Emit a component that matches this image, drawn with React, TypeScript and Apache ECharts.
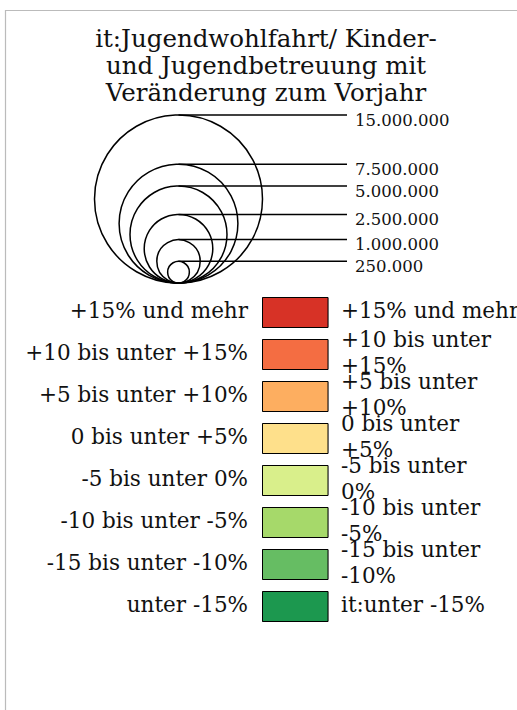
import React, { useEffect, useRef } from "react";
import * as echarts from "echarts";

const titleLines = ["it:Jugendwohlfahrt/ Kinder-", "und Jugendbetreuung mit", "Veränderung zum Vorjahr"];
const sizeValues = [15000000, 7500000, 5000000, 2500000, 1000000, 250000];
const sizeLabels = ["15.000.000", "7.500.000", "5.000.000", "2.500.000", "1.000.000", "250.000"];
const classLabelsLeft = [
  "+15% und mehr",
  "+10 bis unter +15%",
  "+5 bis unter +10%",
  "0 bis unter +5%",
  "-5 bis unter 0%",
  "-10 bis unter -5%",
  "-15 bis unter -10%",
  "unter -15%",
];
const classLabelsRight = [
  "+15% und mehr",
  "+10 bis unter\n+15%",
  "+5 bis unter\n+10%",
  "0 bis unter\n+5%",
  "-5 bis unter\n0%",
  "-10 bis unter\n-5%",
  "-15 bis unter\n-10%",
  "it:unter -15%",
];
const classColors = ["#d73027", "#f46d43", "#fdae61", "#fee08b", "#d9ef8b", "#a6d96a", "#66bd63", "#1a9850"];

const FONT = "'DejaVu Serif', serif";

export default function App() {
  const ref = useRef<HTMLDivElement>(null);
  useEffect(() => {
    if (!ref.current) return;
    const chart = echarts.init(ref.current, undefined, { renderer: "svg" });

    const maxV = Math.max(...sizeValues);
    const rMax = 84;
    const cx = 178.5;
    const baseY = 283;
    const lineEnd = 347;
    const graphics: any[] = [];

    // frame
    graphics.push({
      type: "rect",
      shape: { x: 5.5, y: 10.5, width: 700, height: 900 },
      style: { fill: "none", stroke: "#bbbbbb", lineWidth: 1.2 },
    });

    sizeValues.forEach((v, i) => {
      const r = rMax * Math.sqrt(v / maxV);
      const top = baseY - 2 * r;
      graphics.push({
        type: "circle",
        shape: { cx, cy: baseY - r, r },
        style: { fill: "none", stroke: "#000", lineWidth: 1.5 },
      });
      graphics.push({
        type: "line",
        shape: { x1: cx, y1: top, x2: lineEnd, y2: top },
        style: { stroke: "#000", lineWidth: 1.5 },
      });
      graphics.push({
        type: "text",
        x: 355,
        y: top + 5,
        style: {
          text: sizeLabels[i],
          fontSize: 16.5,
          fontFamily: FONT,
          fill: "#111",
          textAlign: "left",
          textVerticalAlign: "middle",
        },
      });
    });

    const rowTop = 297.5;
    const rowPitch = 42;
    classColors.forEach((c, i) => {
      const y = rowTop + i * rowPitch;
      graphics.push({
        type: "rect",
        shape: { x: 262.5, y, width: 65.5, height: 30 },
        style: { fill: c, stroke: "#000", lineWidth: 1, shadowColor: "rgba(0,0,0,0.35)", shadowBlur: 1.5 },
      });
      graphics.push({
        type: "text",
        x: 248,
        y: y + 13,
        style: {
          text: classLabelsLeft[i],
          fontSize: 21.5,
          fontFamily: FONT,
          fill: "#111",
          textAlign: "right",
          textVerticalAlign: "middle",
        },
      });
      graphics.push({
        type: "text",
        x: 341,
        y: y + 13,
        style: {
          text: classLabelsRight[i],
          fontSize: 21.5,
          lineHeight: 25.5,
          fontFamily: FONT,
          fill: "#111",
          textAlign: "left",
          textVerticalAlign: "middle",
        },
      });
    });

    chart.setOption({
      animation: false,
      title: {
        text: titleLines.join("\n"),
        left: 261,
        top: 20,
        textAlign: "center",
        textStyle: {
          fontSize: 24.5,
          lineHeight: 27,
          fontWeight: "normal",
          fontFamily: FONT,
          color: "#111",
        },
      },
      graphic: graphics,
    });
    return () => chart.dispose();
  }, []);
  return (
    <div
      ref={ref}
      style={{ position: "fixed", left: 0, top: 0, width: 517, height: 710, background: "#fff" }}
    />
  );
}
